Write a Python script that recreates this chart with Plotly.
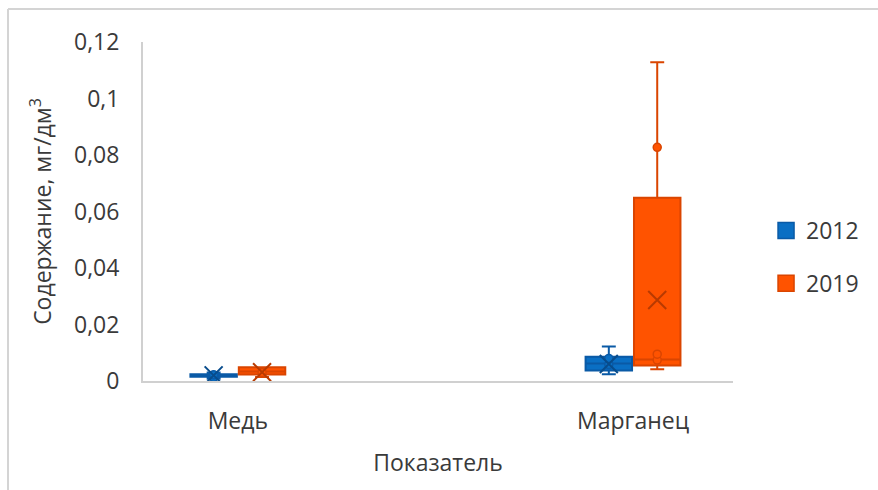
import plotly.graph_objects as go

# Categories and years
categories = ["Медь", "Марганец"]
years = ["2012", "2019"]

# Box statistics per year (mg/dm3), one value per category
lower_fence = {"2012": [0.0008, 0.0024], "2019": [0.0014, 0.0042]}
q1 = {"2012": [0.0015, 0.0037], "2019": [0.0023, 0.0055]}
median = {"2012": [0.0020, 0.0062], "2019": [0.0034, 0.0076]}
q3 = {"2012": [0.0024, 0.0086], "2019": [0.0049, 0.0649]}
upper_fence = {"2012": [0.0030, 0.0122], "2019": [0.0049, 0.1128]}
mean = {"2012": [0.0020, 0.0060], "2019": [0.0031, 0.0287]}

# Inner points shown on each box: (category, value)
points = {
    "2012": [("Медь", 0.0012), ("Медь", 0.0022), ("Марганец", 0.0080), ("Марганец", 0.0058)],
    "2019": [("Медь", 0.0030), ("Марганец", 0.0827), ("Марганец", 0.0095), ("Марганец", 0.0074)],
}

fill = {"2012": "#0A6FC4", "2019": "#FF5300"}
edge = {"2012": "#0A5AA6", "2019": "#DA4500"}
mean_col = {"2012": "#084C8C", "2019": "#B83A00"}

y_ticks = [0, 0.02, 0.04, 0.06, 0.08, 0.1, 0.12]
y_ticktext = ["0", "0,02", "0,04", "0,06", "0,08", "0,1", "0,12"]

FONT = "Open Sans"
TXT = "#3A3A3A"
FS = 23

fig = go.Figure()

for yr in years:
    fig.add_trace(go.Box(
        x=categories,
        q1=q1[yr], median=median[yr], q3=q3[yr],
        lowerfence=lower_fence[yr], upperfence=upper_fence[yr],
        name=yr, offsetgroup=yr, showlegend=False,
        fillcolor=fill[yr], line=dict(color=edge[yr], width=2),
        whiskerwidth=0.3, boxpoints=False, hoverinfo="skip",
    ))

# Inner points, placed over each box via the same offset groups
for yr in years:
    fig.add_trace(go.Box(
        x=[c for c, _ in points[yr]], y=[v for _, v in points[yr]],
        name=yr, offsetgroup=yr, showlegend=False,
        fillcolor="rgba(0,0,0,0)", line=dict(color="rgba(0,0,0,0)", width=0),
        whiskerwidth=0, boxpoints="all", jitter=0, pointpos=0,
        marker=dict(symbol="circle", size=8, color=fill[yr],
                    line=dict(color=edge[yr], width=1.5)),
        hoverinfo="skip",
    ))

# Mean markers (X)
for yr in years:
    fig.add_trace(go.Box(
        x=categories, y=mean[yr],
        name=yr, offsetgroup=yr, showlegend=False,
        fillcolor="rgba(0,0,0,0)", line=dict(color="rgba(0,0,0,0)", width=0),
        whiskerwidth=0, boxpoints="all", jitter=0, pointpos=0,
        marker=dict(symbol="x-thin-open", size=18, color=mean_col[yr],
                    line=dict(color=mean_col[yr], width=2)),
        hoverinfo="skip",
    ))

# Legend swatches
for yr in years:
    fig.add_trace(go.Scatter(
        x=[None], y=[None], mode="markers", name=yr, legendgroup=yr,
        marker=dict(symbol="square", size=17, color=fill[yr],
                    line=dict(color=edge[yr], width=1.5)),
    ))

frame = "#D4D4D4"
fig.update_layout(
    width=878, height=490,
    margin=dict(l=143, r=145, t=42, b=109),
    paper_bgcolor="white", plot_bgcolor="white",
    font=dict(family=FONT, size=FS, color=TXT),
    boxmode="group", boxgap=0.755, boxgroupgap=0.04,
    showlegend=True,
    legend=dict(x=1.056, xanchor="left", y=0.366, yanchor="middle",
                font=dict(size=FS, color=TXT), tracegroupgap=20,
                bgcolor="rgba(0,0,0,0)"),
    xaxis=dict(
        type="category", categoryorder="array", categoryarray=categories,
        range=[-0.24, 1.253], showgrid=False, zeroline=False,
        showline=True, linecolor="#D0D0D0", linewidth=2,
        ticks="", ticklabelstandoff=18,
        title=dict(text="Показатель", standoff=20, font=dict(size=FS, color=TXT)),
    ),
    yaxis=dict(
        range=[0, 0.12], tickvals=y_ticks, ticktext=y_ticktext,
        showgrid=False, zeroline=False,
        showline=True, linecolor="#D0D0D0", linewidth=2,
        ticks="", ticklabelstandoff=17,
        title=dict(text="Содержание, мг/дм<sup>3</sup>", standoff=16,
                   font=dict(size=FS, color=TXT)),
    ),
    shapes=[
        dict(type="line", xref="paper", yref="paper", x0=-0.2288, x1=-0.2288,
             y0=1.097, y1=-0.33, line=dict(color=frame, width=2)),
        dict(type="line", xref="paper", yref="paper", x0=-0.2288, x1=1.26,
             y0=1.097, y1=1.097, line=dict(color=frame, width=2)),
    ],
)

fig.write_html("out.html")
